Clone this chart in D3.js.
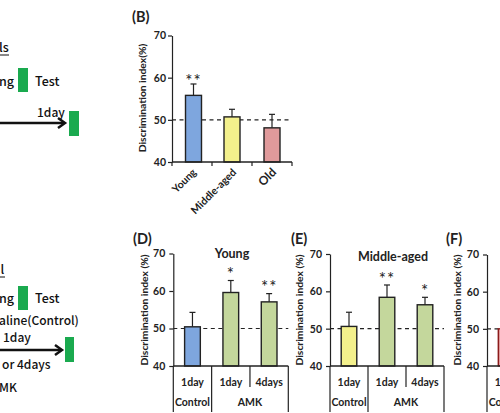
<!DOCTYPE html>
<html>
<head>
<meta charset="utf-8">
<script src="https://cdn.jsdelivr.net/npm/d3@7"></script>
<style>
  html, body { margin: 0; padding: 0; background: #fff; }
  svg { display: block; }
  text { font-family: Lato, "Liberation Sans", Arial, sans-serif; }
  .sch { font-family: "Noto Sans CJK JP", "Noto Sans", sans-serif; }
</style>
</head>
<body>
<svg id="chart" width="500" height="413"></svg>
<script>
// ---------- data ----------
const ageGroups = ["Young", "Middle-aged", "Old"];
const ageValues = [55.8, 50.7, 48.1];
const ageErrors = [2.7, 1.8, 3.2];
const ageStars = ["**", "", ""];

const dayLabels = ["1day", "1day", "4days"];
const treatmentLabels = ["Control", "AMK"];

const youngValues = [50.45, 59.6, 57.1];
const youngErrors = [3.85, 3.2, 2.2];
const youngStars = ["", "*", "**"];

const middleValues = [50.6, 58.4, 56.4];
const middleErrors = [3.8, 3.3, 2.0];
const middleStars = ["", "**", "*"];

const oldValues = [50.0];            // only the edge of panel F is visible
const oldErrors = [0];
const oldStars = [""];

const yTicks = [40, 50, 60, 70];
const chanceLevel = 50;

// ---------- styles ----------
const colBlue = "#7ea6de", colYellow = "#f3f08c", colPink = "#e09a9b", colGreen = "#c4d79c";

const svg = d3.select("#chart");

function yAxisLabel(g, x, y, text) {
  g.append("text").attr("transform", `translate(${x},${y}) rotate(-90)`)
    .attr("text-anchor", "middle").attr("font-size", 10.3).attr("font-weight", 700)
    .attr("fill", "#222").text(text);
}

function drawPanel(opt) {
  const g = svg.append("g");
  const y = d3.scaleLinear().domain([40, 70]).range([opt.y0, opt.y1]);
  const x = d3.scaleBand().domain(d3.range(opt.n)).range([opt.x0, opt.x1]);
  const bw = x.bandwidth() * opt.barFrac;

  const ya = g.append("g").attr("transform", `translate(${opt.x0},0)`)
    .call(d3.axisLeft(y).tickValues(yTicks).tickSize(4).tickPadding(opt.tickPad).tickSizeOuter(0));
  ya.select(".domain").attr("stroke", "#222").attr("stroke-width", 1.2);
  ya.selectAll(".tick line").attr("stroke", "#222").attr("stroke-width", 1.2);
  ya.selectAll(".tick text").attr("font-size", 10.5).attr("font-weight", 700).attr("fill", "#222")
    .attr("font-family", "Lato, 'Liberation Sans', Arial, sans-serif");

  g.append("line").attr("x1", opt.x0).attr("x2", opt.x1)
    .attr("y1", y(chanceLevel)).attr("y2", y(chanceLevel))
    .attr("stroke", "#222").attr("stroke-width", 1.2).attr("stroke-dasharray", "4,3.5");

  opt.values.forEach((v, i) => {
    const cx = x(i) + x.bandwidth() / 2 + (opt.shift ? opt.shift[i] : 0);
    if (opt.errors[i] > 0) {
      g.append("line").attr("x1", cx).attr("x2", cx).attr("y1", y(v)).attr("y2", y(v + opt.errors[i]))
        .attr("stroke", "#222").attr("stroke-width", 1.2);
      g.append("line").attr("x1", cx - 3).attr("x2", cx + 3)
        .attr("y1", y(v + opt.errors[i])).attr("y2", y(v + opt.errors[i]))
        .attr("stroke", "#222").attr("stroke-width", 1.2);
    }
    g.append("rect").attr("x", cx - bw / 2).attr("y", y(v)).attr("width", bw).attr("height", y(40) - y(v))
      .attr("fill", opt.colors[i]).attr("stroke", opt.strokes ? opt.strokes[i] : "#222").attr("stroke-width", 1.4);
    if (opt.stars[i]) {
      g.append("text").attr("x", cx).attr("y", y(v + opt.errors[i]) - opt.starGap)
        .attr("text-anchor", "middle").attr("font-size", 17).attr("fill", "#222")
        .attr("letter-spacing", 1)
        .attr("font-family", "'Liberation Sans', Arial, sans-serif").text(opt.stars[i]);
    }
  });

  g.append("line").attr("x1", opt.x0).attr("x2", opt.x1).attr("y1", y(40)).attr("y2", y(40))
    .attr("stroke", "#222").attr("stroke-width", 1.3);

  return { g, x, y };
}

// ----- Panel B -----
{
  const p = drawPanel({ x0: 172, x1: 292, y0: 162, y1: 35.5, n: 3, barFrac: 0.4, tickPad: 2,
    values: ageValues, errors: ageErrors, stars: ageStars, starGap: -3.4,
    colors: [colBlue, colYellow, colPink], shift: [1.5, 0, 0] });
  d3.range(4).forEach(i => {
    const xx = i < 3 ? p.x(i) : p.x(2) + p.x.bandwidth();
    p.g.append("line").attr("x1", xx).attr("x2", xx).attr("y1", 162).attr("y2", 166)
      .attr("stroke", "#222").attr("stroke-width", 1.2);
  });
  ageGroups.forEach((c, i) => {
    const cx = p.x(i) + p.x.bandwidth() / 2;
    p.g.append("text").attr("transform", `translate(${cx + 5},${173}) rotate(-45)`)
      .attr("text-anchor", "end").attr("font-weight", 700).attr("fill", "#222")
      .attr("font-size", i === 2 ? 12 : 10.5).text(c);
  });
  svg.append("text").attr("x", 132).attr("y", 22).attr("font-size", 14.5).attr("font-weight", 700)
    .attr("fill", "#222").text("(B)");
  yAxisLabel(svg, 146, 98, "Discrimination index(%)");
}

function lowerCategoryAxis(p, n) {
  const yb = p.y(40);
  [p.x(0), p.x(1), p.x(2) + p.x.bandwidth()].forEach((xx, k) => {
    if (k === 2 && n < 3) return;
    p.g.append("line").attr("x1", xx).attr("x2", xx).attr("y1", yb).attr("y2", 412)
      .attr("stroke", "#222").attr("stroke-width", 1.2);
  });
  if (n >= 3) {
    const xx = p.x(2);
    p.g.append("line").attr("x1", xx).attr("x2", xx).attr("y1", yb).attr("y2", 387)
      .attr("stroke", "#222").attr("stroke-width", 1.2);
  }
  dayLabels.forEach((d, i) => {
    if (i >= n) return;
    p.g.append("text").attr("x", p.x(i) + p.x.bandwidth() / 2).attr("y", 385.5)
      .attr("text-anchor", "middle").attr("font-size", 10.5).attr("font-weight", 700).attr("fill", "#222").text(d);
  });
  p.g.append("text").attr("x", p.x(0) + p.x.bandwidth() / 2).attr("y", 405.5)
    .attr("text-anchor", "middle").attr("font-size", 10.5).attr("font-weight", 700).attr("fill", "#222")
    .text(treatmentLabels[0]);
  if (n >= 3) {
    p.g.append("text").attr("x", (p.x(1) + p.x(2) + p.x.bandwidth()) / 2).attr("y", 405.5)
      .attr("text-anchor", "middle").attr("font-size", 10.5).attr("font-weight", 700).attr("fill", "#222")
      .text(treatmentLabels[1]);
  }
}

// ----- Panel D -----
{
  const p = drawPanel({ x0: 173.3, x1: 288.3, y0: 366, y1: 253.5, n: 3, barFrac: 0.41, tickPad: 4,
    values: youngValues, errors: youngErrors, stars: youngStars, starGap: 1,
    colors: [colBlue, colGreen, colGreen] });
  lowerCategoryAxis(p, 3);
  svg.append("text").attr("x", 133).attr("y", 244).attr("font-size", 14.5).attr("font-weight", 700)
    .attr("fill", "#222").text("(D)");
  svg.append("text").attr("x", 232).attr("y", 258).attr("text-anchor", "middle").attr("font-size", 12.5)
    .attr("font-weight", 700).attr("fill", "#222").text("Young");
  yAxisLabel(svg, 148, 310, "Discrimination index (%)");
}

// ----- Panel E -----
{
  const p = drawPanel({ x0: 330, x1: 444, y0: 366, y1: 254, n: 3, barFrac: 0.41, tickPad: 4,
    values: middleValues, errors: middleErrors, stars: middleStars, starGap: 0,
    colors: [colYellow, colGreen, colGreen] });
  lowerCategoryAxis(p, 3);
  svg.append("text").attr("x", 291).attr("y", 244).attr("font-size", 14.5).attr("font-weight", 700)
    .attr("fill", "#222").text("(E)");
  svg.append("text").attr("x", 393).attr("y", 261).attr("text-anchor", "middle").attr("font-size", 12.5)
    .attr("font-weight", 700).attr("fill", "#222").text("Middle-aged");
  yAxisLabel(svg, 303, 310, "Discrimination index (%)");
}

// ----- Panel F (partially visible) -----
{
  const p = drawPanel({ x0: 487, x1: 602, y0: 366, y1: 254.5, n: 3, barFrac: 0.41, tickPad: 4,
    values: oldValues, errors: oldErrors, stars: oldStars, starGap: 0,
    colors: [colPink], strokes: ["#8b1a1a"] });
  lowerCategoryAxis(p, 1);
  svg.append("text").attr("x", 446).attr("y", 244).attr("font-size", 14.5).attr("font-weight", 700)
    .attr("fill", "#222").text("(F)");
  yAxisLabel(svg, 461, 310, "Discrimination index (%)");
}

// ----- schematic fragments (panels A and C, cut off at left) -----
{
  const s = svg.append("g").attr("class", "sch").attr("fill", "#111");
  const t = (x, y, txt, size) => s.append("text").attr("class", "sch").attr("x", x).attr("y", y)
    .attr("font-size", size || 12).attr("font-weight", 500).attr("fill", "#111").text(txt);
  const green = "#1aaa4f";
  // top
  t(-1, 52, "ls", 12.5);
  s.append("line").attr("x1", 0).attr("x2", 9).attr("y1", 55).attr("y2", 55).attr("stroke", "#111").attr("stroke-width", 1);
  t(-1, 86, "ng", 12.5);
  s.append("rect").attr("x", 18).attr("y", 68).attr("width", 10).attr("height", 24).attr("fill", green);
  t(35, 86, "Test", 12.5);
  t(37, 117, "1day", 12);
  s.append("line").attr("x1", -2).attr("x2", 64).attr("y1", 123).attr("y2", 123).attr("stroke", "#111").attr("stroke-width", 2.5);
  s.append("path").attr("d", "M58,118 L65,123 L58,128").attr("fill", "none").attr("stroke", "#111").attr("stroke-width", 2.5);
  s.append("rect").attr("x", 69).attr("y", 111).attr("width", 10).attr("height", 25).attr("fill", green);
  // bottom
  t(0.5, 274, "l", 12.5);
  s.append("line").attr("x1", 0).attr("x2", 5).attr("y1", 277).attr("y2", 277).attr("stroke", "#111").attr("stroke-width", 1);
  t(-1, 303, "ng", 12.5);
  s.append("rect").attr("x", 18).attr("y", 286).attr("width", 10).attr("height", 24).attr("fill", green);
  t(35, 303, "Test", 12.5);
  t(-1, 325, "aline(Control)", 12);
  t(3, 342, "1day", 12);
  s.append("line").attr("x1", -2).attr("x2", 61).attr("y1", 350).attr("y2", 350).attr("stroke", "#111").attr("stroke-width", 2.5);
  s.append("path").attr("d", "M55,345 L62,350 L55,355").attr("fill", "none").attr("stroke", "#111").attr("stroke-width", 2.5);
  s.append("rect").attr("x", 65).attr("y", 337).attr("width", 9).attr("height", 25).attr("fill", green);
  t(2, 369, "or 4days", 12);
  t(-1, 392, "MK", 12);
}
</script>
</body>
</html>
